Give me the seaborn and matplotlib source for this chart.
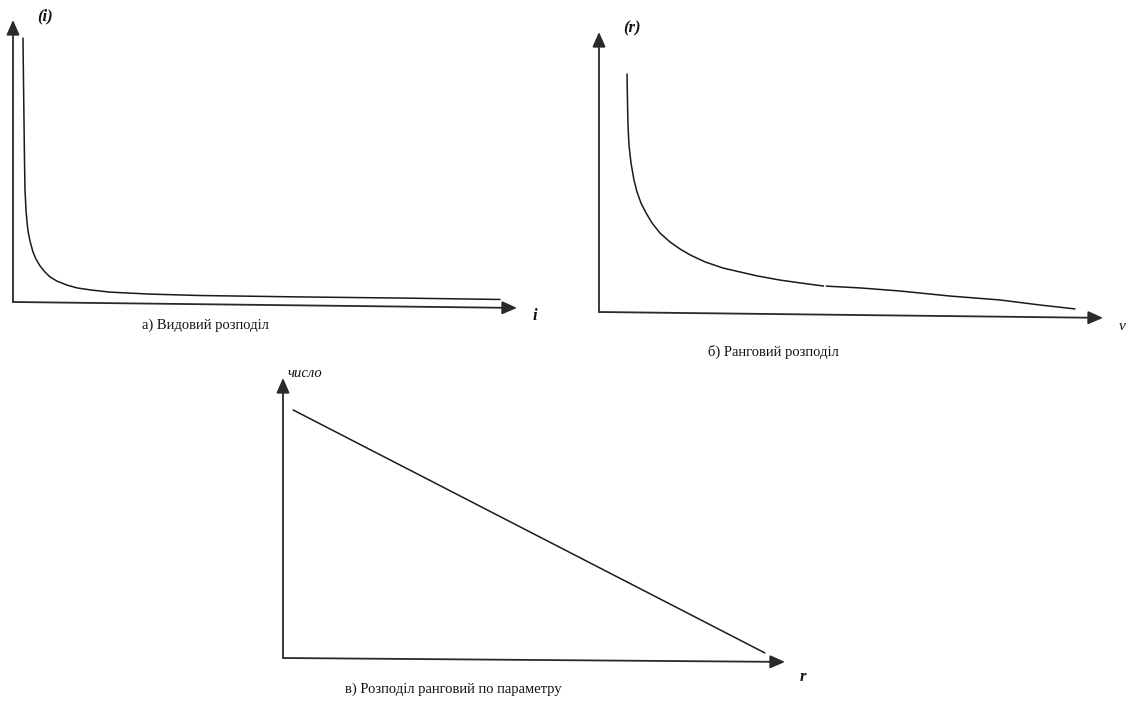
import matplotlib
matplotlib.use("Agg")
import matplotlib.pyplot as plt
import seaborn as sns

# ---------------- data ----------------
# a) species distribution (read off the picture)
species_idx = [1.98, 2.08, 2.18, 2.28, 2.38, 2.58, 2.78, 2.98, 3.37, 3.97, 4.56, 5.36,
               6.35, 7.34, 8.73, 10.71, 12.70, 15.28, 19.25, 27.18, 37.10, 56.94,
               76.79, 96.63]
species_cnt = [93.6, 78.7, 64.5, 50.4, 39.7, 32.6, 28.4, 25.2, 21.6, 17.7, 15.2, 12.8,
               10.6, 8.9, 7.4, 6.0, 5.0, 4.3, 3.5, 2.8, 2.3, 1.8, 1.4, 0.9]
# b) rank distribution
rank_v = [5.56, 5.65, 5.75, 5.95, 6.35, 6.94, 7.54, 8.33, 9.33, 10.52, 12.10, 14.09,
          16.07, 18.06, 21.03, 24.60, 27.98, 31.35, 35.91, 39.88, 44.44, 51.79, 59.72,
          69.64, 79.56, 87.50, 94.44]
rank_r = [85.0, 75.7, 66.8, 59.6, 53.2, 47.1, 42.9, 38.9, 35.4, 31.8, 28.2, 25.0,
          22.5, 20.4, 17.9, 15.7, 14.3, 12.9, 11.4, 10.4, 9.3, 8.6, 7.5, 5.7, 4.3,
          2.5, 1.1]
# c) rank distribution by parameter
param_r = [2.0, 96.0]
param_n = [88.6, 1.8]

captions = ["а) Видовий розподіл", "б) Ранговий розподіл", "в) Розподіл ранговий по параметру"]
y_labels = ["(i)", "(r)", "число"]
x_labels = ["i", "v", "r"]

# ---------------- style ----------------
sns.set_style("white")
plt.rcParams["font.family"] = ["Liberation Serif", "DejaVu Serif"]

W, H = 1129, 702
fig = plt.figure(figsize=(W / 100, H / 100), dpi=100)
fig.patch.set_facecolor("white")

AX_COL = "#2a2a2a"
LINE_COL = "#1a1a1a"


def fx(px):
    return px / W


def fy(py):
    return 1 - py / H


def make_panel(x0, y0, x1, y1, tilt):
    ax = fig.add_axes([fx(x0), fy(y0), (x1 - x0) / W, (y0 - y1) / H])
    ax.set_xlim(0, 100)
    ax.set_ylim(0, 100)
    ax.set_axis_off()
    arrow = dict(arrowstyle="-|>,head_length=0.5,head_width=0.22", mutation_scale=18,
                 lw=1.3, color=AX_COL, shrinkA=0, shrinkB=0)
    ax.annotate("", xy=(1, -tilt), xytext=(0, 0), xycoords="axes fraction",
                arrowprops=arrow, annotation_clip=False)
    ax.annotate("", xy=(0, 1), xytext=(0, 0), xycoords="axes fraction",
                arrowprops=arrow, annotation_clip=False)
    return ax


# panel a
axa = make_panel(13, 302, 517, 20, 0.021)
sns.lineplot(x=species_idx, y=species_cnt, ax=axa, sort=False, estimator=None,
             color=LINE_COL, lw=1.1)

# panel b
axb = make_panel(599, 312, 1103, 32, 0.021)
sns.lineplot(x=rank_v, y=rank_r, ax=axb, sort=False, estimator=None,
             color=LINE_COL, lw=1.1)
# thin white scan gap
axb.axvline(44.9, ymin=-0.05, ymax=0.2, color="white", lw=1.2, clip_on=False)

# panel c
axc = make_panel(283, 658, 785, 378, 0.014)
sns.lineplot(x=param_r, y=param_n, ax=axc, sort=False, estimator=None,
             color=LINE_COL, lw=1.1)

# ---------------- texts ----------------
cap_kw = dict(ha="center", va="center", fontsize=10.5, color="#111")
fig.text(fx(205), fy(325), captions[0], **cap_kw)
fig.text(fx(773), fy(352), captions[1], **cap_kw)
fig.text(fx(453), fy(689), captions[2], **cap_kw)

lab_kw = dict(ha="center", va="center", fontsize=12, color="#111",
              style="italic", weight="bold")
fig.text(fx(45), fy(16), y_labels[0], **lab_kw)
fig.text(fx(632), fy(28), y_labels[1], **lab_kw)
fig.text(fx(305), fy(374), y_labels[2], ha="center", va="center",
         fontsize=10.5, color="#111", style="italic")

fig.text(fx(535), fy(316), x_labels[0], **lab_kw)
fig.text(fx(1122), fy(327), x_labels[1], ha="center", va="center",
         fontsize=11, color="#111", style="italic")
fig.text(fx(803), fy(677), x_labels[2], **lab_kw)

fig.savefig("out.png", dpi=100, facecolor="white")
